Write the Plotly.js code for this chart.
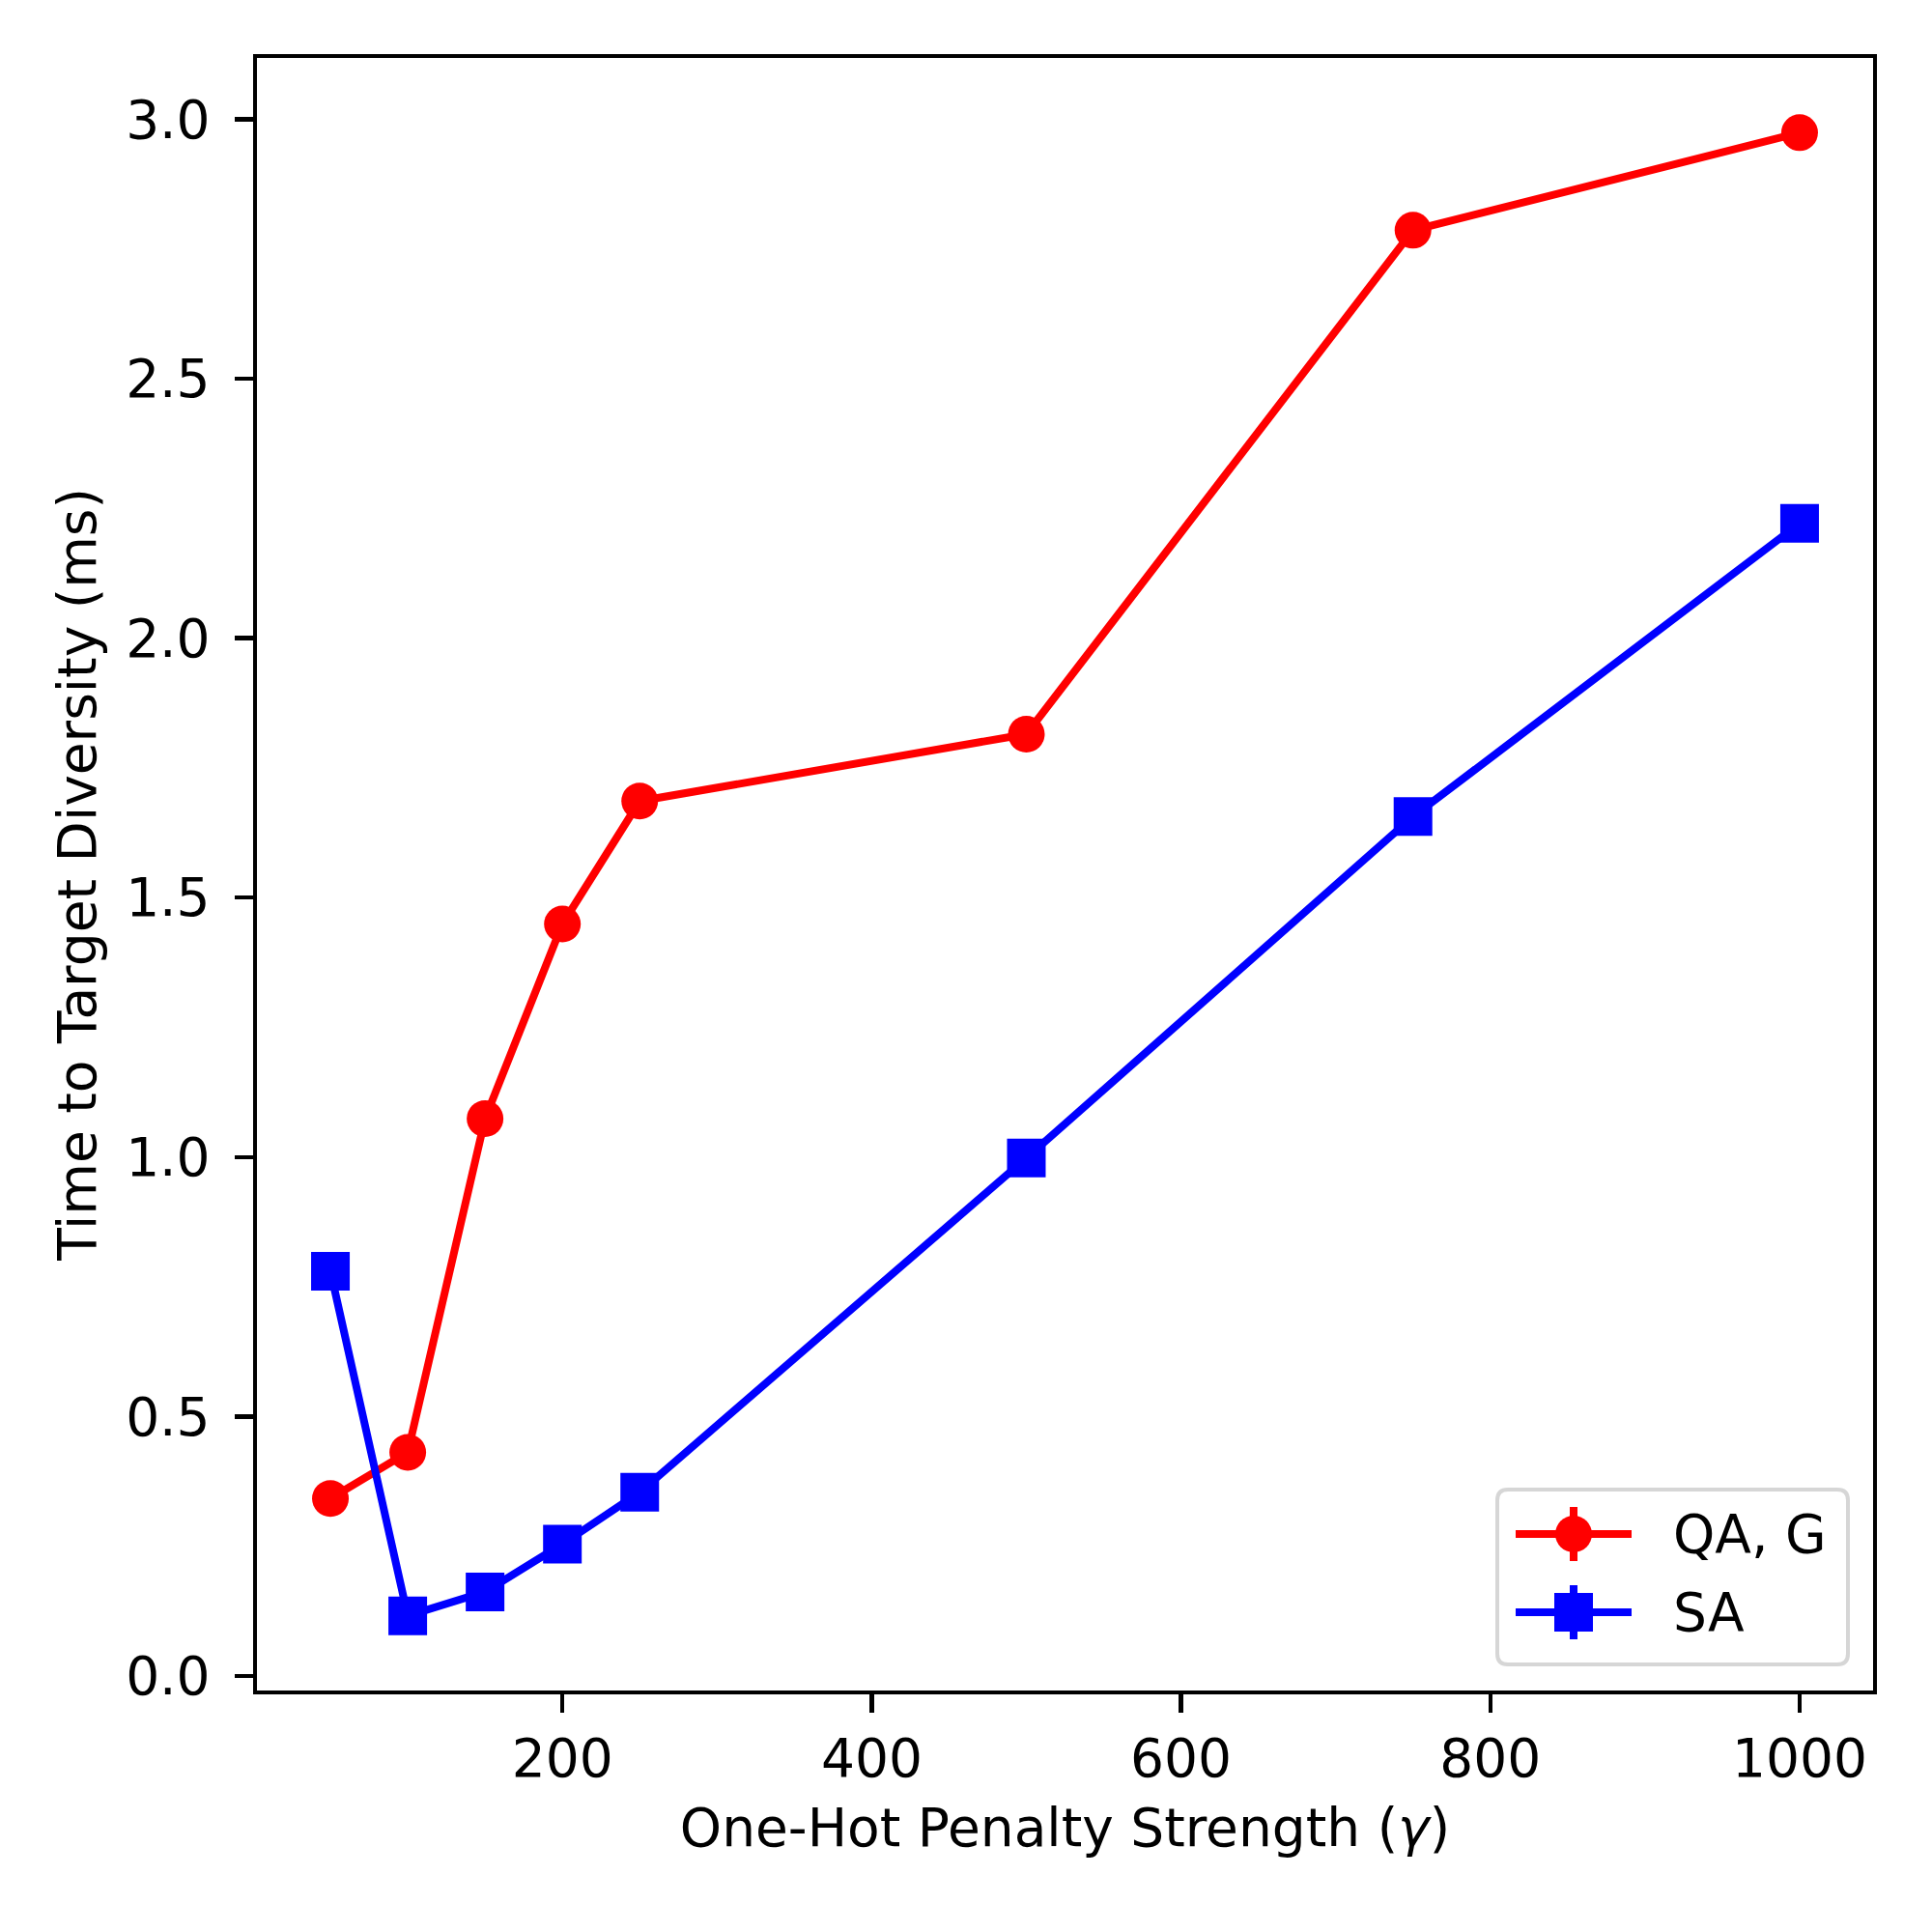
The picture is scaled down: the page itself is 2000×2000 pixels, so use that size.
<!DOCTYPE html>
<html>
<head>
<meta charset="utf-8">
<script src="https://cdn.plot.ly/plotly-3.0.1.min.js"></script>
<style>body{margin:0;background:#fff;}#chart{width:2000px;height:2000px;}</style>
</head>
<body>
<div id="chart"></div>
<script>
const gammaValues = [50, 100, 150, 200, 250, 500, 750, 1000];
const qaTimes = [0.342, 0.431, 1.074, 1.449, 1.686, 1.815, 2.786, 2.974];
const saTimes = [0.780, 0.116, 0.162, 0.254, 0.354, 0.998, 1.656, 2.221];
const seriesNames = ["QA, G", "SA"];
const seriesColors = ["#ff0000", "#0000ff"];
const xTickVals = [200, 400, 600, 800, 1000];
const yTickVals = [0.0, 0.5, 1.0, 1.5, 2.0, 2.5, 3.0];

const font = "DejaVu Sans, sans-serif";
const FS = 55;
const traces = [
  {
    x: gammaValues, y: qaTimes, name: seriesNames[0], type: "scatter", mode: "lines+markers",
    line: {color: seriesColors[0], width: 8},
    marker: {symbol: "circle", size: 38, color: seriesColors[0]}
  },
  {
    x: gammaValues, y: saTimes, name: seriesNames[1], type: "scatter", mode: "lines+markers",
    line: {color: seriesColors[1], width: 8},
    marker: {symbol: "square", size: 40, color: seriesColors[1]}
  }
];

// plot area in pixels (for legend placement)
const L = 266, R = 1939, T = 60, B = 1750;
const px = v => (v - L) / (R - L);
const py = v => (B - v) / (B - T);

// custom legend (matplotlib style)
const bx0 = 1550, bx1 = 1913, by0 = 1542, by1 = 1723, rr = 11;
const roundRect = `M${px(bx0+rr)},${py(by0)} L${px(bx1-rr)},${py(by0)} Q${px(bx1)},${py(by0)} ${px(bx1)},${py(by0+rr)} ` +
  `L${px(bx1)},${py(by1-rr)} Q${px(bx1)},${py(by1)} ${px(bx1-rr)},${py(by1)} L${px(bx0+rr)},${py(by1)} ` +
  `Q${px(bx0)},${py(by1)} ${px(bx0)},${py(by1-rr)} L${px(bx0)},${py(by0+rr)} Q${px(bx0)},${py(by0)} ${px(bx0+rr)},${py(by0)} Z`;
const rowY = [1588, 1669];
const shapes = [
  {type: "path", xref: "paper", yref: "paper", path: roundRect, fillcolor: "rgba(255,255,255,0.8)",
   line: {color: "#d6d6d6", width: 4}, layer: "above"}
];
const annotations = [];
rowY.forEach((yy, i) => {
  shapes.push({type: "line", xref: "paper", yref: "paper", x0: px(1569), x1: px(1689), y0: py(yy), y1: py(yy),
    line: {color: seriesColors[i], width: 8}, layer: "above"});
  shapes.push({type: "line", xref: "paper", yref: "paper", x0: px(1629), x1: px(1629), y0: py(yy - 28), y1: py(yy + 28),
    line: {color: seriesColors[i], width: 8}, layer: "above"});
  if (i === 0) {
    shapes.push({type: "circle", xref: "paper", yref: "paper", x0: px(1629 - 19), x1: px(1629 + 19),
      y0: py(yy - 19), y1: py(yy + 19), fillcolor: seriesColors[i], line: {width: 0}, layer: "above"});
  } else {
    shapes.push({type: "rect", xref: "paper", yref: "paper", x0: px(1629 - 20), x1: px(1629 + 20),
      y0: py(yy - 20), y1: py(yy + 20), fillcolor: seriesColors[i], line: {width: 0}, layer: "above"});
  }
  annotations.push({xref: "paper", yref: "paper", x: px(1730), y: py(yy), xanchor: "left", yanchor: "middle",
    text: seriesNames[i], showarrow: false, font: {family: font, size: FS, color: "#000"}});
});

const axisCommon = {
  showgrid: false, zeroline: false, showline: true, mirror: true,
  linecolor: "#000", linewidth: 4.4, ticks: "outside", ticklen: 19, tickwidth: 4.4,
  tickcolor: "#000", tickfont: {family: font, size: FS, color: "#000"}
};

const layout = {
  width: 2000, height: 2000,
  margin: {l: L, r: 2000 - R, t: T, b: 2000 - B},
  paper_bgcolor: "#fff", plot_bgcolor: "#fff",
  font: {family: font, color: "#000"},
  showlegend: false,
  shapes: shapes,
  annotations: annotations,
  xaxis: Object.assign({}, axisCommon, {
    range: [2.5, 1047.5], tickvals: xTickVals, ticktext: xTickVals.map(String),
    ticklabelstandoff: 0,
    title: {text: "One-Hot Penalty Strength (<i>γ</i>)", font: {family: font, size: FS, color: "#000"}, standoff: 22}
  }),
  yaxis: Object.assign({}, axisCommon, {
    range: [-0.028, 3.118], tickvals: yTickVals, ticktext: yTickVals.map(v => v.toFixed(1)),
    ticklabelstandoff: 14,
    title: {text: "Time to Target Diversity (ms)", font: {family: font, size: FS, color: "#000"}, standoff: 14}
  })
};

Plotly.newPlot("chart", traces, layout, {displayModeBar: false, staticPlot: true});
</script>
</body>
</html>
